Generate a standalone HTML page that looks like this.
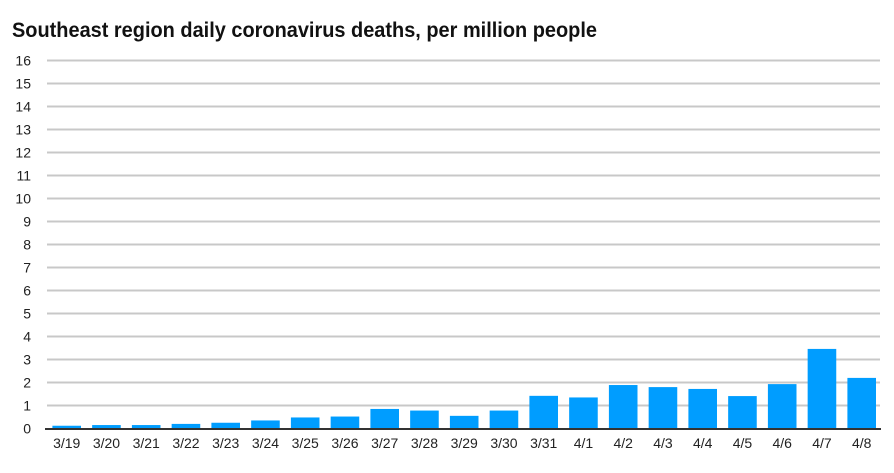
<!DOCTYPE html><html><head><style>body{margin:0;background:#fff}</style></head><body>
<svg width="894" height="468" xmlns="http://www.w3.org/2000/svg" font-family="Liberation Sans, sans-serif">
<text x="12" y="37" font-size="21" font-weight="bold" fill="#111" textLength="585" lengthAdjust="spacingAndGlyphs">Southeast region daily coronavirus deaths, per million people</text>
<g stroke="#c8c8c8" stroke-width="2">
<line x1="47" x2="880" y1="405.5" y2="405.5"/><line x1="47" x2="880" y1="382.5" y2="382.5"/><line x1="47" x2="880" y1="359.5" y2="359.5"/><line x1="47" x2="880" y1="336.5" y2="336.5"/><line x1="47" x2="880" y1="313.5" y2="313.5"/><line x1="47" x2="880" y1="290.5" y2="290.5"/><line x1="47" x2="880" y1="267.5" y2="267.5"/><line x1="47" x2="880" y1="244.5" y2="244.5"/><line x1="47" x2="880" y1="221.5" y2="221.5"/><line x1="47" x2="880" y1="198.5" y2="198.5"/><line x1="47" x2="880" y1="175.5" y2="175.5"/><line x1="47" x2="880" y1="152.5" y2="152.5"/><line x1="47" x2="880" y1="129.5" y2="129.5"/><line x1="47" x2="880" y1="106.5" y2="106.5"/><line x1="47" x2="880" y1="83.5" y2="83.5"/><line x1="47" x2="880" y1="60.5" y2="60.5"/>
</g>
<g font-size="14" text-anchor="end" fill="#222">
<text x="31" y="433.5">0</text><text x="31" y="410.5">1</text><text x="31" y="387.5">2</text><text x="31" y="364.5">3</text><text x="31" y="341.5">4</text><text x="31" y="318.5">5</text><text x="31" y="295.5">6</text><text x="31" y="272.5">7</text><text x="31" y="249.5">8</text><text x="31" y="226.5">9</text><text x="31" y="203.5">10</text><text x="31" y="180.5">11</text><text x="31" y="157.5">12</text><text x="31" y="134.5">13</text><text x="31" y="111.5">14</text><text x="31" y="88.5">15</text><text x="31" y="65.5">16</text>
</g>
<g fill="#009dff">
<rect x="52.4" y="425.74" width="28.6" height="2.76"/>
<rect x="92.15" y="425.05" width="28.6" height="3.45"/>
<rect x="131.9" y="425.05" width="28.6" height="3.45"/>
<rect x="171.65" y="423.9" width="28.6" height="4.6"/>
<rect x="211.4" y="422.75" width="28.6" height="5.75"/>
<rect x="251.15" y="420.45" width="28.6" height="8.05"/>
<rect x="290.9" y="417.46" width="28.6" height="11.04"/>
<rect x="330.65" y="416.54" width="28.6" height="11.96"/>
<rect x="370.4" y="408.95" width="28.6" height="19.55"/>
<rect x="410.15" y="410.56" width="28.6" height="17.94"/>
<rect x="449.9" y="415.85" width="28.6" height="12.65"/>
<rect x="489.65" y="410.56" width="28.6" height="17.94"/>
<rect x="529.4" y="395.84" width="28.6" height="32.66"/>
<rect x="569.15" y="397.45" width="28.6" height="31.05"/>
<rect x="608.9" y="385.03" width="28.6" height="43.47"/>
<rect x="648.65" y="387.1" width="28.6" height="41.4"/>
<rect x="688.4" y="388.94" width="28.6" height="39.56"/>
<rect x="728.15" y="396.07" width="28.6" height="32.43"/>
<rect x="767.9" y="384.11" width="28.6" height="44.39"/>
<rect x="807.65" y="348.92" width="28.6" height="79.58"/>
<rect x="847.4" y="377.9" width="28.6" height="50.6"/>
</g>
<line x1="45" x2="881" y1="429" y2="429" stroke="#333" stroke-width="2"/>
<g font-size="14" text-anchor="middle" fill="#222">
<text x="66.7" y="448">3/19</text><text x="106.45" y="448">3/20</text><text x="146.2" y="448">3/21</text><text x="185.95" y="448">3/22</text><text x="225.7" y="448">3/23</text><text x="265.45" y="448">3/24</text><text x="305.2" y="448">3/25</text><text x="344.95" y="448">3/26</text><text x="384.7" y="448">3/27</text><text x="424.45" y="448">3/28</text><text x="464.2" y="448">3/29</text><text x="503.95" y="448">3/30</text><text x="543.7" y="448">3/31</text><text x="583.45" y="448">4/1</text><text x="623.2" y="448">4/2</text><text x="662.95" y="448">4/3</text><text x="702.7" y="448">4/4</text><text x="742.45" y="448">4/5</text><text x="782.2" y="448">4/6</text><text x="821.95" y="448">4/7</text><text x="861.7" y="448">4/8</text>
</g>
</svg></body></html>
